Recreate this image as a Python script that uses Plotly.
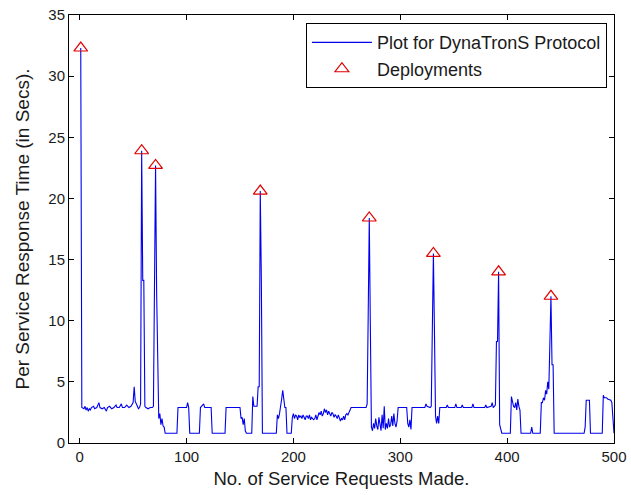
import plotly.graph_objects as go

# Response time series (request index, seconds)
req_x = [1, 2, 4, 5, 6, 7, 8, 9, 10, 11, 13, 14, 16, 18, 19, 21, 23, 25, 26, 28, 30, 32, 34, 35, 37, 39, 40,
         42, 44, 46, 48, 50, 51, 52, 54, 55, 56, 57, 58, 59, 60, 61, 62, 64, 66, 68, 69, 70, 71, 72, 73, 74,
         75, 76, 77, 78, 79, 80, 91, 92, 100, 101, 102, 103, 112, 113, 115, 116, 117, 123, 124, 136, 137,
         150, 151, 152, 153, 154, 155, 156, 161, 162, 163, 166, 167, 168, 169, 170, 171, 184, 185, 186, 187,
         188, 189, 190, 191, 192, 193, 194, 198, 199, 200, 201, 202, 203, 204, 205, 206, 207, 208, 209, 210,
         211, 212, 213, 214, 215, 216, 217, 218, 219, 220, 221, 222, 223, 224, 225, 226, 227, 228, 229, 230,
         231, 232, 233, 234, 235, 236, 237, 238, 239, 240, 241, 242, 243, 244, 245, 246, 247, 248, 249, 250,
         251, 252, 253, 254, 268, 269, 270, 271, 272, 273, 274, 275, 276, 277, 278, 279, 280, 281, 282, 283,
         284, 285, 286, 287, 288, 289, 290, 291, 292, 293, 294, 295, 296, 297, 298, 306, 307, 308, 309, 310,
         311, 323, 324, 325, 328, 329, 330, 331, 332, 333, 334, 335, 336, 337, 343, 344, 345, 351, 352, 353,
         357, 358, 359, 367, 368, 369, 379, 380, 381, 385, 386, 387, 389, 390, 391, 392, 393, 394, 395, 403,
         404, 405, 406, 407, 408, 409, 410, 411, 412, 413, 422, 423, 424, 431, 432, 433, 434, 435, 436, 437,
         438, 439, 440, 441, 442, 443, 444, 472, 473, 474, 477, 478, 489, 490, 491, 493, 494, 497, 498, 499,
         500]
resp_time = [32.3, 2.9, 2.8, 3.0, 2.7, 2.9, 2.6, 2.8, 2.7, 2.9, 3.0, 2.8, 2.9, 3.3, 2.9, 2.8, 2.9, 2.6,
             2.9, 3.0, 2.8, 2.9, 3.1, 2.9, 2.9, 3.2, 2.9, 2.9, 3.1, 2.9, 3.0, 3.3, 4.6, 3.4, 3.0, 2.8, 2.9,
             3.2, 23.9, 13.3, 13.3, 3.0, 2.9, 2.8, 2.9, 2.9, 3.0, 13.0, 22.7, 12.3, 4.5, 2.0, 2.4, 1.5, 2.0,
             1.4, 1.3, 0.8, 0.8, 2.9, 2.9, 3.3, 2.9, 0.8, 0.8, 2.9, 3.1, 3.2, 2.9, 2.9, 0.8, 0.8, 2.9, 2.9,
             2.0, 2.1, 1.5, 2.0, 1.0, 0.8, 0.8, 3.8, 3.0, 3.0, 4.6, 4.6, 20.6, 13.3, 0.8, 0.8, 2.3, 2.0, 2.4,
             2.9, 3.6, 4.3, 3.5, 2.9, 2.9, 0.8, 0.8, 2.1, 2.4, 2.0, 2.3, 2.2, 1.9, 2.3, 2.1, 2.2, 2.0, 2.3,
             2.1, 1.9, 2.2, 2.2, 2.0, 2.3, 1.9, 2.1, 2.0, 1.9, 2.0, 2.3, 1.9, 2.2, 2.5, 2.3, 2.6, 2.2, 2.4,
             2.8, 2.5, 2.7, 2.3, 2.6, 2.4, 2.2, 2.5, 2.4, 2.1, 2.3, 2.2, 2.0, 2.3, 2.1, 1.8, 2.0, 1.9, 2.2,
             1.9, 2.3, 2.4, 2.3, 2.5, 2.8, 2.9, 2.9, 3.2, 10.6, 18.4, 9.5, 1.3, 1.0, 1.6, 1.2, 2.0, 1.4, 1.1,
             2.1, 1.3, 1.0, 2.3, 1.2, 3.0, 1.1, 1.6, 1.2, 2.0, 1.3, 1.5, 2.2, 1.4, 2.4, 1.6, 1.3, 1.8, 2.9,
             2.9, 1.6, 1.3, 1.9, 1.1, 2.9, 2.9, 3.2, 3.0, 2.9, 3.0, 9.2, 15.5, 9.0, 2.2, 1.6, 2.2, 1.6, 2.9,
             2.9, 3.1, 2.9, 2.9, 3.2, 2.9, 2.9, 3.1, 2.9, 2.9, 3.2, 2.9, 2.9, 3.1, 2.9, 3.0, 3.3, 2.9, 3.1,
             8.3, 8.3, 14.0, 1.5, 1.2, 0.8, 0.8, 3.8, 3.4, 3.0, 2.9, 3.3, 2.7, 3.6, 3.0, 2.7, 0.8, 0.8, 1.3,
             0.8, 0.8, 3.3, 3.3, 3.7, 3.5, 4.3, 4.0, 5.0, 4.4, 7.8, 12.0, 6.4, 6.4, 0.8, 0.8, 1.3, 3.5, 3.5,
             0.8, 0.8, 3.9, 3.7, 3.7, 3.6, 3.5, 3.3, 2.0, 0.8]

# Deployment peaks
deploy_x = [1, 58, 71, 169, 271, 331, 392, 441]
deploy_y = [32.3, 23.9, 22.7, 20.6, 18.4, 15.5, 14.0, 12.0]

x_ticks = [0, 100, 200, 300, 400, 500]
y_ticks = [0, 5, 10, 15, 20, 25, 30, 35]

FONT = "Liberation Sans, Arial, sans-serif"
TXT = "#1a1a1a"

fig = go.Figure()
fig.add_trace(go.Scatter(
    x=req_x, y=resp_time, mode="lines",
    line=dict(color="#0000ee", width=1.1),
    name="Plot for DynaTronS Protocol",
))
fig.add_trace(go.Scatter(
    x=deploy_x, y=deploy_y, mode="markers",
    marker=dict(symbol="triangle-up-open", size=12, color="#e00000", line=dict(width=1.2, color="#e00000")),
    name="Deployments",
))

axis_common = dict(
    showline=True, linecolor="black", linewidth=1, mirror="ticks",
    ticks="inside", ticklen=5, tickcolor="black", tickwidth=1,
    showgrid=False, zeroline=False, automargin=False,
    tickfont=dict(family=FONT, size=15, color=TXT),
)

fig.update_layout(
    width=631, height=495,
    margin=dict(l=69, r=17, t=15, b=52),
    paper_bgcolor="white", plot_bgcolor="white",
    font=dict(family=FONT, size=18, color=TXT),
    showlegend=True,
    legend=dict(
        x=0.987, y=0.981, xanchor="right", yanchor="top",
        bordercolor="black", borderwidth=1, bgcolor="white",
        font=dict(family=FONT, size=18, color=TXT),
        itemwidth=60,
        tracegroupgap=0,
    ),
    xaxis=dict(
        range=[-10, 500], tickvals=x_ticks,
        title=dict(text="No. of Service Requests Made.", font=dict(family=FONT, size=18.5, color=TXT), standoff=8),
        **axis_common,
    ),
    yaxis=dict(
        range=[0, 35], tickvals=y_ticks,
        title=dict(text="Per Service Response Time (in Secs).", font=dict(family=FONT, size=19, color=TXT), standoff=13),
        **axis_common,
    ),
)

fig.write_html("out.html")
